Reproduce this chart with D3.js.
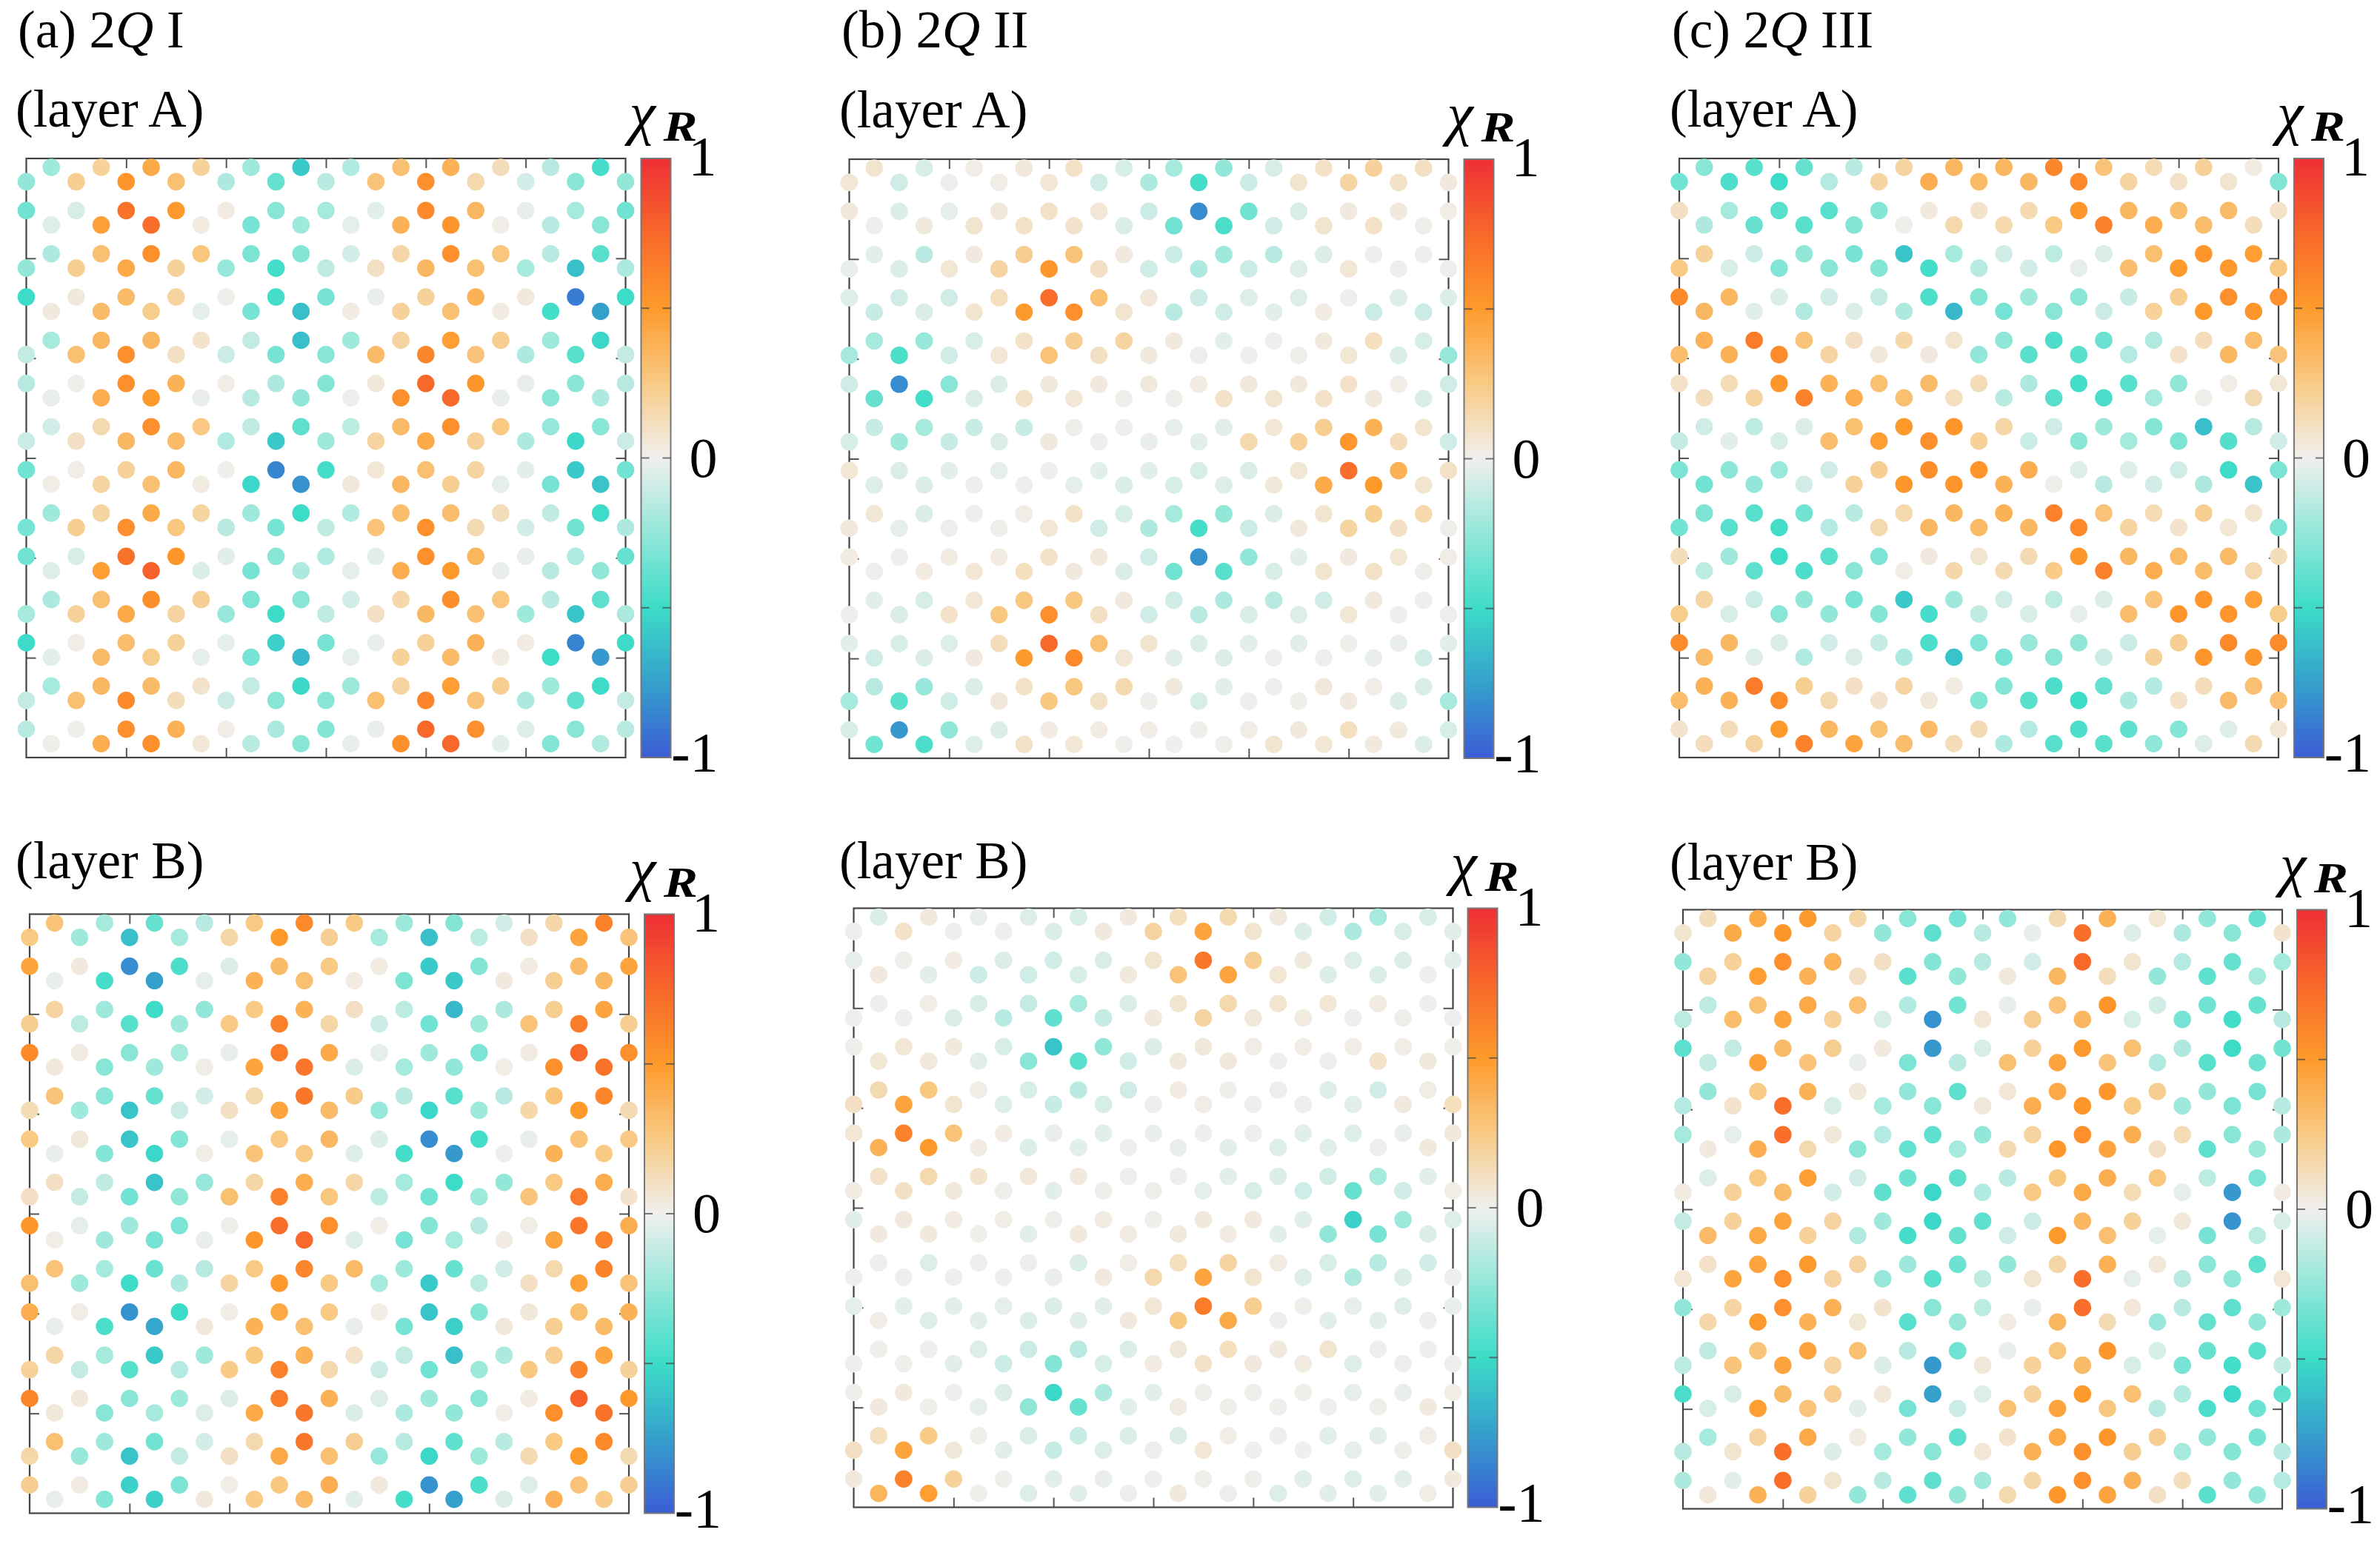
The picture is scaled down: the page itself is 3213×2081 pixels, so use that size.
<!DOCTYPE html>
<html>
<head>
<meta charset="utf-8">
<script src="https://cdn.jsdelivr.net/npm/d3@7"></script>
<style>
body { margin: 0; background: #fff; }
text { font-family: "Liberation Serif", serif; fill: #000; }
</style>
</head>
<body>
<svg id="fig" width="3213" height="2081"></svg>
<script>
// chi_R, in percent. 28 rows top to bottom, rows alternate 12 and 13 sites
var chiIA = [
[-22,20,42,20,-22,-58,-17,30,38,12,-15,-48],
[-25,22,52,30,-18,-38,-15,28,55,15,-8,-28,-25],
[-35,-7,70,50,3,-28,-20,-4,58,35,-2,-20,-35],
[-5,47,72,3,-33,-22,-3,38,52,2,-15,-28],
[-18,30,55,27,-32,-30,-8,17,55,27,-15,-42],
[-25,22,42,20,-24,-48,-13,10,35,30,-20,-62,-18],
[-50,4,33,18,1,-48,-33,-2,20,38,4,-88,-50],
[4,33,23,-3,-33,-62,3,20,30,3,-48,-75],
[-20,35,35,8,-12,-62,-22,18,48,22,-22,-52],
[-12,30,55,10,-10,-33,-28,33,60,28,-18,-42,-12],
[-15,1,55,38,2,-18,-30,5,75,52,-2,-27,-15],
[-2,40,50,-2,-15,-25,-1,55,75,-2,-28,-18],
[-8,15,55,25,-13,-40,-14,33,55,25,-24,-28],
[-10,10,35,33,-17,-58,-22,18,42,20,-18,-52,-10],
[-35,2,20,35,1,-85,-48,6,30,18,-4,-58,-35],
[2,18,30,3,-52,-80,5,35,22,-3,-33,-60],
[-22,18,42,18,-22,-50,-17,32,32,12,-13,-50],
[-33,22,55,26,-15,-33,-13,28,55,14,-8,-35,-18],
[-35,-7,70,52,-4,-28,-17,-4,55,36,-2,-17,-38],
[-5,48,78,-6,-33,-18,-3,40,50,-2,-15,-26],
[-18,30,56,22,-32,-28,-8,16,56,27,-15,-40],
[-20,20,42,18,-24,-50,-13,10,35,30,-22,-60,-18],
[-50,2,32,20,-3,-55,-33,-2,20,38,3,-85,-50],
[-4,33,23,-3,-33,-65,-3,20,33,3,-50,-78],
[-20,35,33,8,-12,-52,-22,18,48,22,-22,-50],
[-12,30,58,12,-10,-28,-28,30,60,28,-18,-40,-12],
[-15,1,55,38,2,-18,-30,-2,75,55,-5,-28,-15],
[1,40,55,5,-15,-28,-2,55,75,-4,-30,-17]
];
var chiIB = [
[28,-20,-38,-15,25,58,25,-22,-30,-8,16,62],
[25,-22,-62,-20,17,50,22,-20,-62,-14,10,45,28],
[45,4,-82,-45,-6,33,25,3,-58,-30,3,33,45],
[-2,-47,-75,-3,38,30,3,-32,-58,4,22,35],
[18,-22,-50,-25,25,38,10,-14,-65,-18,22,45],
[22,-14,-42,-22,25,62,17,-10,-35,-22,28,65,22],
[58,3,-28,-20,-2,65,42,-3,-22,-32,3,75,55],
[4,-28,-22,2,45,68,-6,-20,-25,2,55,70],
[28,-28,-38,-8,15,68,24,-15,-42,-15,28,60],
[13,-22,-60,-10,10,45,33,-24,-52,-22,16,50,14],
[25,5,-60,-30,-3,25,35,-6,-82,-48,-2,28,25],
[-2,-30,-52,2,28,25,-5,-48,-78,-1,38,25],
[10,-13,-60,-24,17,40,17,-20,-50,-25,25,40],
[10,-12,-35,-26,30,62,27,-14,-35,-22,28,65,8],
[52,-3,-22,-32,1,72,55,2,-30,-15,2,68,40],
[2,-22,-33,-2,52,75,-5,-33,-20,3,45,62],
[28,-20,-37,-15,25,60,33,-22,-38,-8,15,62],
[30,-22,-50,-18,18,50,25,-20,-58,-14,10,47,28],
[40,2,-80,-50,2,42,25,2,-60,-30,5,30,38],
[-2,-46,-72,5,38,30,-2,-33,-55,5,22,33],
[17,-20,-58,-22,26,38,9,-12,-62,-18,22,45],
[20,-12,-42,-16,24,62,15,-10,-35,-22,26,62,20],
[60,5,-28,-22,-6,65,38,-5,-22,-28,3,78,50],
[5,-28,-20,-5,42,68,-6,-18,-25,2,55,70],
[30,-22,-35,-8,15,68,22,-15,-40,-15,25,58],
[16,-24,-60,-12,10,42,30,-24,-52,-22,14,50,14],
[22,3,-55,-32,2,26,40,4,-80,-46,-5,28,22],
[-2,-30,-55,4,24,33,-4,-48,-75,-6,38,24]
];
var chiIIA = [
[7,-7,2,5,9,-7,-20,-25,-7,9,20,10],
[6,-9,-1,2,6,-9,-18,-48,-10,7,18,9,4],
[5,-6,-3,5,9,6,-10,-82,-35,-7,4,4,2],
[-1,4,7,9,8,-6,-35,-45,-9,7,9,1],
[-4,-15,4,22,28,4,-10,-22,-15,-6,-1,-1],
[-2,-6,6,18,52,10,-9,-18,-10,-5,6,-1,-1],
[-5,-9,-9,11,72,30,5,-10,-5,-5,-1,-5,-6],
[-11,-6,7,50,55,7,-15,-9,-4,3,-10,-10],
[-20,-24,-7,9,22,18,4,-4,-1,4,11,-7],
[-20,-45,-9,6,28,10,4,-1,-1,1,6,-6,-24],
[-9,-82,-28,-6,4,4,4,3,4,4,9,2,-9],
[-38,-48,-6,9,6,1,1,9,7,9,4,-6],
[-11,-20,-11,-11,1,-1,-3,-4,6,22,38,7],
[-7,-22,-11,-6,4,-1,-2,-4,15,20,52,12,-9],
[6,-6,-4,-3,-1,-4,-4,-7,-6,6,72,38,9],
[-5,-6,-1,-1,-3,-6,-7,-5,5,42,50,7],
[6,-6,-1,2,9,-7,-20,-25,-6,7,22,15],
[4,-3,-1,1,6,-9,-18,-48,-10,4,18,10,1],
[3,-1,3,3,9,5,-9,-80,-26,-4,4,6,2],
[-1,3,6,11,4,-6,-35,-42,-7,7,9,1],
[-4,-7,6,26,26,4,-9,-18,-15,-9,4,-1],
[-1,-6,9,26,55,10,-9,-15,-7,-5,6,-1,-1],
[-4,-7,-5,12,75,30,7,-6,-4,-4,1,-2,-4],
[-9,-6,4,50,58,6,-4,-6,-1,-1,-2,-9],
[-15,-24,-6,9,26,15,4,-4,-1,5,2,-6],
[-20,-42,-9,5,26,9,1,-7,-1,1,4,-6,-20],
[-7,-78,-26,-6,3,3,2,1,2,4,11,4,-7],
[-35,-45,-5,9,6,1,0,1,7,6,4,-6]
];
var chiIIB = [
[-6,4,-2,-5,-7,4,11,15,4,-9,-20,-7],
[-1,9,-1,-1,-6,4,18,45,7,-6,-18,-7,-4],
[-3,1,3,-6,-9,-6,7,68,22,4,-5,-6,-4],
[4,-4,-10,-9,-7,4,28,45,6,-6,-6,-1],
[-1,2,-7,-12,-20,-6,7,15,7,6,3,-1],
[-1,-1,-6,-15,-40,-11,4,18,5,3,-1,1,-1],
[1,6,4,-7,-60,-26,-6,5,2,2,2,2,1],
[6,4,-4,-28,-42,-9,4,4,-1,-1,9,4],
[14,26,2,-7,-15,-9,3,1,-1,-5,-8,2],
[10,45,7,-5,-11,-7,-1,2,-1,-1,-4,4,11],
[6,62,28,3,-2,-4,-2,-1,-1,-4,-5,-2,4],
[38,50,3,-6,-4,-1,-2,-4,-5,-4,-1,4],
[9,15,8,5,4,-1,-1,-4,-6,-9,-20,-4],
[3,10,4,1,-4,1,1,-3,-7,-9,-38,-9,2],
[-4,4,3,2,1,3,1,4,4,-4,-55,-22,-5],
[4,4,1,-4,4,3,4,3,-4,-26,-33,-6],
[-1,-5,-1,-1,-6,2,11,18,3,-7,-15,-8],
[-1,-1,-1,-1,-2,4,15,45,7,-5,-18,-6,-1],
[-3,-4,-4,-3,-6,-4,6,65,22,1,-3,-5,-2],
[2,-5,-4,-6,-4,4,26,42,-1,-4,-4,-1],
[1,-1,-5,-10,-15,-6,5,11,4,7,-1,-1],
[-1,1,-4,-10,-30,-7,3,9,4,3,-5,-1,-1],
[1,4,-1,-6,-52,-18,-4,1,1,1,-3,-2,2],
[4,1,-3,-26,-38,-4,3,1,1,-1,1,4],
[11,24,1,-6,-11,-6,-6,2,-1,-4,-4,2],
[10,45,5,-4,-11,-5,-1,6,0,0,-3,1,10],
[4,62,20,1,-4,-2,-1,1,1,-4,-5,-4,4],
[36,48,1,-5,-4,-1,4,-1,-5,-4,-4,2]
];
var chiIIIA = [
[-28,-42,-38,-15,18,35,35,60,28,13,20,3],
[-35,-45,-50,-16,18,40,33,35,58,18,9,7,-30],
[10,-20,-42,-42,-30,4,8,14,52,35,32,33,9],
[-18,-38,-42,-30,1,15,15,25,62,40,32,12],
[20,-10,-25,-33,-60,-20,-9,-14,-6,30,52,48],
[25,-7,-30,-28,-30,-48,-15,-8,-3,32,50,50,25],
[58,35,-6,-9,-12,-45,-30,-22,-28,-11,22,55,55],
[35,-4,-17,-6,-18,-65,-33,-28,-10,20,50,52],
[38,65,28,10,16,7,-26,-45,-36,-17,12,32],
[32,38,57,18,5,4,-25,-42,-42,-16,9,35,28],
[9,13,52,38,30,33,13,-18,-48,-42,-26,2,6],
[12,18,62,40,30,11,-15,-42,-45,-20,1,14],
[-9,-14,-6,30,50,52,17,-9,-22,-30,-62,-15],
[-12,-4,-7,32,48,55,20,-10,-28,-20,-32,-43,-9],
[-32,-27,-23,-9,22,56,52,40,-5,-5,-9,-50,-32],
[-35,-25,-8,20,52,52,38,1,-15,-8,-18,-60],
[-32,-42,-35,-15,15,35,38,62,28,13,22,7],
[-35,-42,-48,-16,15,35,33,35,58,18,8,6,-32],
[12,-22,-50,-42,-32,4,7,14,52,35,33,33,12],
[-14,-40,-45,-28,2,16,14,24,62,40,32,15],
[18,-10,-25,-33,-58,-22,-9,-14,-6,28,52,48],
[23,-7,-28,-25,-30,-47,-13,-7,-3,32,52,52,23],
[57,35,-6,-8,-11,-45,-30,-24,-26,-10,22,58,57],
[33,-5,-17,-6,-18,-60,-33,-28,-10,20,52,52],
[38,65,22,10,18,3,-30,-45,-38,-17,12,30],
[32,38,57,15,8,5,-30,-42,-50,-18,9,33,30],
[8,13,50,35,30,33,14,-16,-46,-40,-30,-5,6],
[12,18,62,45,32,13,-18,-42,-42,-26,-5,14]
];
var chiIIIB = [
[12,42,50,17,-28,-33,-25,14,38,6,-25,-38],
[7,42,52,18,-25,-40,-15,-2,72,-5,-18,-28,8],
[-25,20,55,38,10,-30,-15,-8,75,7,-16,-38,-20],
[18,48,38,10,-42,-25,4,35,12,-25,-40,-20],
[-14,30,42,30,-17,-35,-2,28,52,-8,-35,-38],
[-14,32,45,20,-7,-80,6,22,35,-7,-33,-48,-15],
[-40,-12,33,22,4,-78,-7,20,50,30,-18,-50,-35],
[-12,47,28,-2,-32,-15,30,45,28,-17,-42,-36],
[-25,25,38,5,-25,-40,6,42,52,22,-25,-33],
[-16,8,72,-7,-20,-28,5,40,52,25,-22,-32,-15],
[-20,-3,72,5,-16,-40,-25,18,55,40,13,-28,-18],
[4,40,15,-28,-38,-20,14,52,45,10,-40,-22],
[-5,25,48,-8,-36,-40,-15,26,40,27,-14,-32],
[3,20,33,-8,-40,-52,-17,25,42,13,-3,-78,3],
[-12,20,45,18,-22,-52,-40,-10,35,20,5,-80,-7],
[33,42,20,-17,-48,-38,-9,50,30,-3,-33,-14],
[9,45,50,18,-22,-36,-25,17,38,5,-27,-40],
[6,45,55,18,-24,-42,-13,7,72,-3,-15,-26,6],
[-26,18,55,38,8,-28,-14,-2,72,5,-15,-40,-22],
[16,50,38,6,-42,-24,3,35,14,-24,-38,-25],
[-13,28,45,30,-15,-35,-2,26,52,-7,-38,-42],
[-14,28,45,18,-6,-78,5,20,33,-7,-33,-48,-13],
[-45,-7,33,22,5,-75,-5,20,50,30,-17,-52,-40],
[-7,48,28,-4,-33,-10,30,45,26,-15,-45,-36],
[-20,18,42,3,-25,-40,8,42,52,22,-25,-33],
[-15,7,72,-6,-20,-28,6,38,55,22,-20,-30,-15],
[-18,-4,72,7,-15,-40,-22,16,55,38,12,-25,-16],
[5,38,20,-25,-40,-25,15,52,45,10,-42,-25]
];

var columnTicks = [4, 8, 12, 16, 20];
var rowTicks = [1, 2, 3, 4, 5];
var colorValues = [1, 0.75, 0.5, 0.25, 0, -0.25, -0.5, -0.75, -1];
var colorStops = ["#ee2f35", "#f8682a", "#fe9a2c", "#f8ca84", "#f0efee", "#93e7d9", "#3cdcc8", "#35a0cc", "#3b5dd5"];
var barTicks = [0.5, 0, -0.5];

var panels = [
    {title: "(a)", num: "I", layer: "(layer A)", values: chiIA, left: 35.5, top: 214, textX: 24, layerX: 21, labelDx: -16, barDx: 21},
    {title: "(b)", num: "II", layer: "(layer A)", values: chiIIA, left: 1146.5, top: 215, textX: 1136, layerX: 1133, labelDx: -23, barDx: 21},
    {title: "(c)", num: "III", layer: "(layer A)", values: chiIIIA, left: 2267, top: 214, textX: 2257, layerX: 2254, labelDx: -23, barDx: 21},
    {layer: "(layer B)", values: chiIB, left: 40, top: 1234.5, layerX: 21, labelDx: -20, barDx: 21},
    {layer: "(layer B)", values: chiIIB, left: 1152.5, top: 1226.5, layerX: 1133, labelDx: -23, barDx: 20},
    {layer: "(layer B)", values: chiIIIB, left: 2272, top: 1228.5, layerX: 2254, labelDx: -23, barDx: 20}
];

var size = 809, barWidth = 40, dotRadius = 11.8, fontSize = 71, digitSize = 76;

var svg = d3.select("#fig");
var color = d3.scaleLinear().domain(colorValues).range(colorStops);

// one gradient for all the colour bars, offset 0 is the top (value 1)
var grad = svg.append("defs").append("linearGradient")
    .attr("id", "chi").attr("x1", 0).attr("x2", 0).attr("y1", 0).attr("y2", 1);
grad.selectAll("stop").data(colorValues).enter().append("stop")
    .attr("offset", function (d) { return (1 - d) / 2; })
    .attr("stop-color", function (d) { return color(d); });

// the sites of a honeycomb lattice: rows go odd, even, even, odd columns
function sites(rows) {
    var out = [];
    rows.forEach(function (row, r) {
        var pair = Math.floor(r / 2), sub = r % 2;
        var start = (r % 4 === 0 || r % 4 === 3) ? 1 : 0;
        row.forEach(function (v, i) {
            out.push({col: start + 2 * i, row: 0.205 + pair + sub / 3, v: v / 100});
        });
    });
    return out;
}

panels.forEach(function (p) {
    var g = svg.append("g").attr("transform", "translate(" + p.left + "," + p.top + ")");
    var x = d3.scaleLinear().domain([0, 24]).range([0, size]);
    var y = d3.scaleLinear().domain([0, 13.86]).range([0, size]);
    var frac = d3.scaleLinear().domain([0, 6]).range([0, size]);

    // inward ticks on all four sides
    function ticks(axis, tx, ty, values, s) {
        g.append("g")
            .attr("class", "ticks")
            .attr("transform", "translate(" + tx + "," + ty + ")")
            .call(axis(s).tickValues(values).tickSize(-13).tickSizeOuter(0).tickFormat(""));
    }
    ticks(d3.axisBottom, 0, size, columnTicks, x);
    ticks(d3.axisTop, 0, 0, columnTicks, x);
    ticks(d3.axisLeft, 0, 0, rowTicks, frac);
    ticks(d3.axisRight, size, 0, rowTicks, frac);
    g.selectAll(".ticks .domain").remove();
    g.selectAll(".ticks line").attr("stroke", "#555").attr("stroke-width", 2);

    g.append("rect")
        .attr("width", size).attr("height", size)
        .attr("fill", "none").attr("stroke", "#444").attr("stroke-width", 2.2);

    g.selectAll("circle").data(sites(p.values)).enter().append("circle")
        .attr("cx", function (d) { return x(d.col); })
        .attr("cy", function (d) { return y(d.row); })
        .attr("r", dotRadius)
        .attr("fill", function (d) { return color(d.v); });

    // colour bar
    var bar = g.append("g").attr("transform", "translate(" + (size + p.barDx) + ",0)");
    var barY = d3.scaleLinear().domain([1, -1]).range([0, size]);
    bar.append("rect")
        .attr("width", barWidth).attr("height", size)
        .attr("fill", "url(#chi)").attr("stroke", "#777").attr("stroke-width", 2);
    bar.selectAll(".bt").data(barTicks).enter().append("path")
        .attr("class", "bt")
        .attr("d", function (d) {
            var v = barY(d);
            return d3.line()([[0, v], [11, v]]) + d3.line()([[barWidth - 11, v], [barWidth, v]]);
        })
        .attr("stroke", "#444").attr("stroke-opacity", 0.7).attr("stroke-width", 2).attr("fill", "none");

    bar.append("text").attr("x", barWidth + 43).attr("y", barY(1) + 23)
        .attr("text-anchor", "middle").style("font-size", digitSize + "px").text("1");
    bar.append("text").attr("x", barWidth + 44).attr("y", barY(0) + 25)
        .attr("text-anchor", "middle").style("font-size", digitSize + "px").text("0");
    bar.append("text").attr("x", barWidth + 64).attr("y", barY(-1) + 19)
        .attr("text-anchor", "end").style("font-size", digitSize + "px").text("-1");

    // the label is two pieces, the bold R is wider than the font gives
    g.append("text").attr("x", size + p.barDx + p.labelDx).attr("y", -34)
        .style("font-size", "80px").style("font-style", "italic").text("χ");
    g.append("text").attr("x", size + p.barDx + p.labelDx + 46).attr("y", -24)
        .attr("textLength", 46).attr("lengthAdjust", "spacingAndGlyphs")
        .style("font-size", "56px").style("font-style", "italic").style("font-weight", "bold").text("R");

    // captions, layer B ones sit closer to their frame
    svg.append("text").attr("x", p.layerX).attr("y", p.top + (p.title ? -43 : -49 + (p.top - 1234.5 < -1 ? 8 : 0)))
        .style("font-size", fontSize + "px").text(p.layer);
    if (p.title) {
        var t = svg.append("text").attr("x", p.textX).attr("y", 64).style("font-size", fontSize + "px");
        t.append("tspan").text(p.title + " 2");
        t.append("tspan").style("font-style", "italic").text("Q");
        t.append("tspan").text(" " + p.num);
    }
});
</script>
</body>
</html>
